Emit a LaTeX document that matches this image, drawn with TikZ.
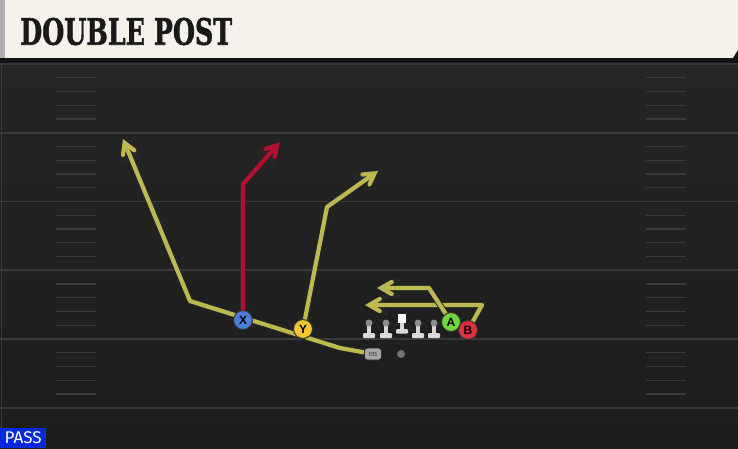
\documentclass[tikz,border=0pt]{standalone}
\usepackage{fontspec}
\setsansfont{Liberation Sans}
\newfontfamily\titulofont{DejaVu Serif}[BoldFeatures={FakeBold=1.6}]
\newfontfamily\pasefont{Fira Sans}
\usetikzlibrary{arrows}
\definecolor{Campo}{RGB}{37, 37, 37}
\definecolor{CampoB}{RGB}{29, 29, 29}
\definecolor{Linea}{RGB}{58, 58, 58}
\definecolor{Crema}{RGB}{245, 242, 235}
\definecolor{Am}{RGB}{189, 184, 80}
\definecolor{Ro}{RGB}{178, 16, 46}
\definecolor{Xc}{RGB}{74, 128, 216}
\definecolor{Yc}{RGB}{242, 198, 48}
\definecolor{Ac}{RGB}{112, 214, 62}
\definecolor{Bc}{RGB}{224, 48, 64}
\definecolor{Pase}{RGB}{10, 40, 220}

\tikzset{
  ruta/.style={line width=4.2pt, -angle 60, line join=round,
    preaction={draw=black!85, line width=6pt}},
  jugador/.style={circle, draw=black!80, line width=1pt, minimum size=19pt,
    inner sep=0pt, font=\sffamily\bfseries\fontsize{12}{12}\selectfont},
  corredor/.style={draw=black!85, fill=black!35, rounded corners=3pt, line width=0.8pt,
    minimum width=17pt, minimum height=12pt, inner sep=0pt, text=black!75,
    font=\sffamily\fontsize{6}{6}\selectfont}
}

\begin{document}
\begin{tikzpicture}[x=1pt,y=-1pt]
   	\useasboundingbox (0,0) rectangle (738,448);

    %Campo
   	\shade[top color=Campo, bottom color=CampoB] (0,62) rectangle (738,448);
   	\draw[color=Linea, line width=1pt] (1.5,62) -- (1.5,448);

	%Lineas de yarda
   	\foreach \i in {0,...,5}
   		\draw[color=Linea, line width=1.6pt] (0,64+68.75*\i) -- (738,64+68.75*\i);

	%Marcas (hash marks)
   	\foreach \i in {0,...,4}
   		\foreach \k in {1,...,4} {
   			\draw[color=Linea, line width=1.2pt] (56,64+68.75*\i+13.75*\k) -- (96,64+68.75*\i+13.75*\k);
   			\draw[color=Linea, line width=1.2pt] (646,64+68.75*\i+13.75*\k) -- (686,64+68.75*\i+13.75*\k);
   		}

	%Barra del titulo
   	\fill[color=Crema] (5,0) -- (738,0) -- (738,50) -- (733,58) -- (5,58) -- cycle;
   	\fill[color=black!32] (0,0) rectangle (5,58);
   	\fill[color=black!92] (0,58) rectangle (738,62.5);
   	\fill[color=black!92] (733,58) -- (738,50) -- (738,58) -- cycle;
   	\node[anchor=west, text=black!90, inner sep=0pt] (titulo) at (20,31.5)
   		{\resizebox{212pt}{27pt}{\titulofont\bfseries DOUBLE POST}};

	%Posiciones de los jugadores
   	\coordinate (pX) at (243,320);
   	\coordinate (pY) at (303,329);
   	\coordinate (pA) at (451,322);
   	\coordinate (pB) at (468,330);
   	\coordinate (pRB) at (373,354);

	%Puntos de las rutas
   	\coordinate (rb1) at (340,348);
   	\coordinate (rb2) at (190,301);
   	\coordinate (rb3) at (123,139);
   	\coordinate (x1) at (243,184);
   	\coordinate (x2) at (280,142);
   	\coordinate (y1) at (327,207);
   	\coordinate (y2) at (378,171);
   	\coordinate (a1) at (429,288);
   	\coordinate (a2) at (377,288);
   	\coordinate (b1) at (482,305);
   	\coordinate (b2) at (365,305);

	%Rutas
   	\draw[ruta, color=Am] (pRB) -- (rb1) -- (rb2) -- (rb3);
   	\draw[ruta, color=Ro] (pX) -- (x1) -- (x2);
   	\draw[ruta, color=Am] (pY) -- (y1) -- (y2);
   	\draw[ruta, color=Am] (pB) -- (b1) -- (b2);
   	\draw[ruta, color=Am] (pA) -- (a1) -- (a2);

	%Linea ofensiva
   	\foreach \x in {369,386,418,434} {
   		\fill[color=black!15] (\x-2,324) rectangle (\x+2,333);
   		\fill[color=black!15, rounded corners=1pt] (\x-6,333) rectangle (\x+6,338);
   		\fill[color=black!45] (\x,323) circle (3.5pt);
   	}
   	%Centro
   	\fill[color=white] (397.5,314) rectangle (406,322.5);
   	\fill[color=black!15] (400,322.5) rectangle (404,329);
   	\fill[color=black!15, rounded corners=1pt] (396,329) rectangle (408,333.5);

	%Balon
   	\fill[color=black!55] (401,354) circle (4pt);

	%Jugadores
   	\node[jugador, fill=Xc] (X) at (pX) {X};
   	\node[jugador, fill=Yc] (Y) at (pY) {Y};
   	\node[jugador, fill=Ac] (A) at (pA) {A};
   	\node[jugador, fill=Bc] (B) at (pB) {B};
   	\node[corredor] (RB) at (pRB) {RB};

	%Etiqueta
   	\node[anchor=south west, fill=Pase, text=white, minimum width=46pt, minimum height=20pt,
   		inner sep=0pt] (pase) at (0,448) {\pasefont\fontsize{17}{17}\selectfont PASS};
\end{tikzpicture}
\end{document}
